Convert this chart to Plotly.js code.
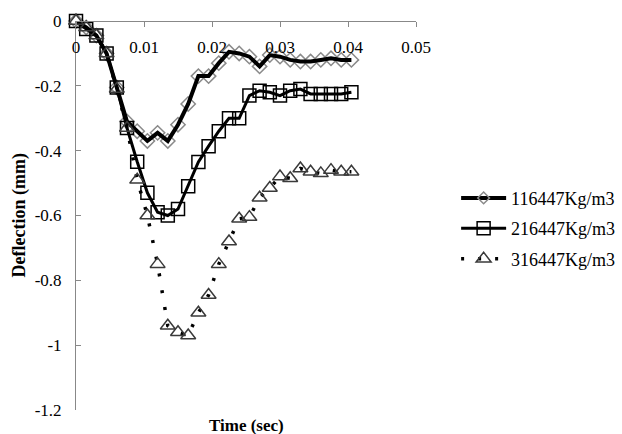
<!DOCTYPE html>
<html>
<head>
<meta charset="utf-8">
<script src="https://cdn.plot.ly/plotly-3.0.1.min.js"></script>
<style>html,body{margin:0;padding:0;background:#fff}#chart{width:622px;height:434px}</style>
</head>
<body>
<div id="chart"></div>
<script>
// Time (sec)
const time = [0, 0.0015, 0.003, 0.0045, 0.006, 0.0075, 0.009, 0.0105, 0.012, 0.0135,
  0.015, 0.0165, 0.018, 0.0195, 0.021, 0.0225, 0.024, 0.0255, 0.027, 0.0285,
  0.03, 0.0315, 0.033, 0.0345, 0.036, 0.0375, 0.039, 0.0405];
// Deflection (mm)
const density116447 = [0, -0.02, -0.045, -0.10, -0.205, -0.31, -0.34, -0.37, -0.345, -0.37,
  -0.32, -0.256, -0.17, -0.17, -0.13, -0.095, -0.10, -0.11, -0.14, -0.105,
  -0.11, -0.12, -0.125, -0.125, -0.12, -0.115, -0.12, -0.12];
const density216447 = [0, -0.025, -0.045, -0.10, -0.205, -0.33, -0.434, -0.53, -0.59, -0.60,
  -0.58, -0.51, -0.435, -0.386, -0.34, -0.30, -0.30, -0.23, -0.215, -0.22,
  -0.23, -0.215, -0.21, -0.225, -0.225, -0.225, -0.225, -0.22];
const density316447 = [0, -0.02, -0.045, -0.10, -0.21, -0.33, -0.49, -0.60, -0.75, -0.94,
  -0.96, -0.97, -0.90, -0.845, -0.75, -0.68, -0.61, -0.605, -0.545, -0.515,
  -0.48, -0.485, -0.455, -0.465, -0.47, -0.46, -0.465, -0.465];
const seriesNames = ['116447Kg/m3', '216447Kg/m3', '316447Kg/m3'];
const xTickVals = [0, 0.01, 0.02, 0.03, 0.04, 0.05];
const xTickText = ['0', '0.01', '0.02', '0.03', '0.04', '0.05'];
const yTickVals = [0, -0.2, -0.4, -0.6, -0.8, -1, -1.2];
const yTickText = ['0', '-0.2', '-0.4', '-0.6', '-0.8', '-1', '-1.2'];

const serif = 'Liberation Serif, Times New Roman, serif';
const noPoints = [];

const traces = [
  // diamonds drawn first so the thick line lies on top of them
  {
    x: time, y: density116447, name: seriesNames[0], type: 'scatter', mode: 'markers',
    showlegend: false, legendgroup: 'a', cliponaxis: false,
    marker: {symbol: 'diamond', size: 11, color: '#fff', line: {width: 1.5, color: '#8a8a8a'}}
  },
  {
    x: time, y: density116447, name: seriesNames[0], type: 'scatter', mode: 'lines+markers',
    legendgroup: 'a', cliponaxis: false,
    selectedpoints: noPoints, unselected: {marker: {opacity: 0}},
    line: {color: '#000', width: 4},
    marker: {symbol: 'diamond-open', size: 9, color: '#8a8a8a', line: {width: 1.5, color: '#8a8a8a'}}
  },
  {
    x: time, y: density216447, name: seriesNames[1], type: 'scatter', mode: 'lines+markers',
    legendgroup: 'b', cliponaxis: false,
    line: {color: '#000', width: 3},
    marker: {symbol: 'square-open', size: 13, color: '#000', line: {width: 1.5, color: '#000'}}
  },
  {
    x: time, y: density316447, name: seriesNames[2], type: 'scatter', mode: 'lines+markers',
    legendgroup: 'c', cliponaxis: false,
    line: {color: '#000', width: 3.5, dash: '3px,14px'},
    marker: {symbol: 'triangle-up-open', size: 13, color: '#3a3a3a', line: {width: 1.5, color: '#3a3a3a'}}
  }
];

const layout = {
  width: 622, height: 434,
  margin: {l: 76, r: 206, t: 21, b: 24, autoexpand: false},
  paper_bgcolor: '#fff', plot_bgcolor: '#fff',
  font: {family: serif, size: 17, color: '#000'},
  showlegend: true,
  legend: {
    x: 1.118, xanchor: 'left', y: 0.592, yanchor: 'top',
    font: {family: serif, size: 18, color: '#000'},
    itemwidth: 45,
    traceorder: 'grouped', tracegroupgap: 4, bgcolor: 'rgba(0,0,0,0)'
  },
  xaxis: {
    range: [0, 0.05], anchor: 'free', position: 1, side: 'bottom',
    tickvals: xTickVals, ticktext: xTickText,
    ticks: 'outside', ticklen: 5, tickcolor: '#888', ticklabelstandoff: 6,
    showline: true, linecolor: '#888', linewidth: 1, showgrid: false, zeroline: false,
    tickfont: {family: serif, size: 17, color: '#000'}
  },
  yaxis: {
    range: [-1.2, 0], tickvals: yTickVals, ticktext: yTickText,
    ticks: 'inside', ticklen: 5, tickcolor: '#888', ticklabelstandoff: 10,
    showline: true, linecolor: '#888', linewidth: 1, showgrid: false, zeroline: false,
    tickfont: {family: serif, size: 17, color: '#000'}
  },
  annotations: [
    {text: '<b>Time (sec)</b>', xref: 'paper', yref: 'paper', x: 0.5, y: 0, yanchor: 'top', yshift: -4,
     showarrow: false, font: {family: serif, size: 17, color: '#000'}},
    {text: '<b>Deflection (mm)</b>', xref: 'paper', yref: 'paper', x: 0, xshift: -57, y: 0.5,
     xanchor: 'center', yanchor: 'middle',
     textangle: -90, showarrow: false, font: {family: serif, size: 18, color: '#000'}}
  ]
};

Plotly.newPlot('chart', traces, layout, {displayModeBar: false, staticPlot: true});
</script>
</body>
</html>
